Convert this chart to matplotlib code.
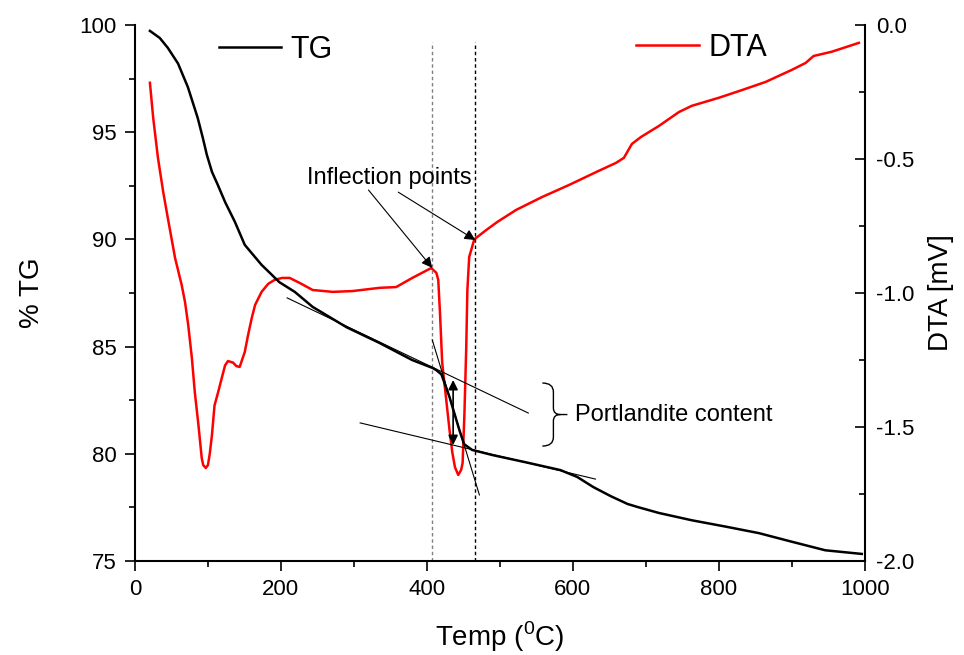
import matplotlib
matplotlib.use("Agg")
import matplotlib.pyplot as plt
from matplotlib.path import Path
from matplotlib.patches import PathPatch

plt.rcParams['font.family'] = ['Liberation Sans', 'DejaVu Sans']
plt.rcParams['mathtext.fontset'] = 'custom'
plt.rcParams['mathtext.rm'] = 'Liberation Sans'

# TG curve (temperature in C, mass %)
tg_temp = [20.5, 34, 45, 59, 72.5, 86, 93, 98.5, 105.6, 113.5, 123.5, 137, 150.5, 173.5, 198,
           219, 243.5, 290, 335, 380, 408, 413, 420, 431, 444.6, 451, 462, 490, 536, 583,
           606, 628, 651.6, 675, 688.6, 718, 763, 810, 855, 900, 946, 996]
tg_val = [99.72, 99.39, 98.93, 98.2, 97.1, 95.66, 94.73, 93.94, 93.14, 92.54, 91.74, 90.81,
          89.74, 88.81, 88.0, 87.55, 86.85, 85.9, 85.17, 84.37, 84.0, 83.9, 83.7, 82.65, 81.1,
          80.45, 80.18, 79.94, 79.6, 79.24, 78.92, 78.45, 78.03, 77.66, 77.52, 77.24, 76.9,
          76.6, 76.3, 75.9, 75.5, 75.33]

# DTA curve (temperature in C, mV)
dta_temp = [20.5, 25, 31.5, 38.7, 45, 55, 64, 68.6, 73, 78, 82, 87, 91.5, 93.5, 97, 100,
            102.5, 105.5, 109, 114, 119, 123.5, 127.5, 134.5, 139, 143.5, 150.5, 155, 160,
            164.6, 173.5, 182.6, 191.5, 201.6, 212, 226, 243.5, 271, 298, 335, 358, 380, 406,
            413, 415.6, 418, 421, 431, 435, 438.5, 443, 447, 449, 451.5, 454, 455.5, 458, 465,
            481.5, 496.6, 522.5, 558, 595, 632, 659, 670, 681, 693.5, 718, 745.5, 763, 800,
            832, 864, 900, 919, 930, 955, 992]
dta_val = [-0.216, -0.347, -0.496, -0.623, -0.72, -0.87, -0.97, -1.034, -1.12, -1.243, -1.37,
           -1.493, -1.616, -1.642, -1.653, -1.642, -1.60, -1.53, -1.42, -1.37, -1.317, -1.27,
           -1.254, -1.26, -1.273, -1.276, -1.22, -1.157, -1.094, -1.045, -0.996, -0.966,
           -0.951, -0.944, -0.944, -0.963, -0.989, -0.996, -0.993, -0.981, -0.978, -0.944,
           -0.907, -0.925, -0.951, -1.075, -1.26, -1.51, -1.597, -1.65, -1.679, -1.66, -1.634,
           -1.448, -1.20, -0.99, -0.866, -0.80, -0.765, -0.735, -0.69, -0.642, -0.597, -0.549,
           -0.515, -0.496, -0.444, -0.418, -0.377, -0.325, -0.302, -0.272, -0.243, -0.213,
           -0.168, -0.142, -0.116, -0.10, -0.067]

# inflection temperatures and construction lines (in TG coordinates)
inflect_temps = [407.4, 466.4]
tangent_1 = ([208.5, 539], [87.27, 81.90])
tangent_2 = ([407.4, 472], [85.31, 78.08])
tangent_3 = ([308.6, 631], [81.44, 78.82])

fig = plt.figure(figsize=(9.64, 6.55), dpi=100)
ax = fig.add_axes([0.140, 0.1435, 0.757, 0.8185])
ax2 = ax.twinx()

ax.plot(tg_temp, tg_val, color='black', lw=1.8, label='TG', zorder=3)
ax2.plot(dta_temp, dta_val, color='red', lw=1.8, label='DTA', zorder=2)
ax.set_zorder(ax2.get_zorder() + 1)
ax.patch.set_visible(False)

ax.set_xlim(0, 1000)
ax.set_ylim(75, 100)
ax2.set_ylim(-2.0, 0.0)

ax.set_xticks(range(0, 1001, 200))
ax.set_xticks(range(100, 1000, 200), minor=True)
ax.set_yticks(range(75, 101, 5))
ax.set_yticks([77.5, 82.5, 87.5, 92.5, 97.5], minor=True)
ax2.set_yticks([-2.0, -1.5, -1.0, -0.5, 0.0])
ax2.set_yticks([-1.75, -1.25, -0.75, -0.25], minor=True)
ax2.set_yticklabels(['-2.0', '-1.5', '-1.0', '-0.5', '0.0'])

for a in (ax, ax2):
    a.spines['top'].set_visible(False)
    for s in a.spines.values():
        s.set_linewidth(1.5)
ax.spines['right'].set_visible(False)
ax2.spines['left'].set_visible(False)
ax2.spines['bottom'].set_visible(False)

ax.tick_params(axis='both', which='major', direction='out', length=7, width=1.2, labelsize=16, pad=6)
ax.tick_params(axis='both', which='minor', direction='out', length=4, width=1.2)
ax.tick_params(axis='y', right=False, which='both')
ax2.tick_params(axis='y', which='major', direction='in', length=7, width=1.2, labelsize=16, pad=8)
ax2.tick_params(axis='y', which='minor', direction='in', length=4, width=1.2)

ax.set_xlabel('Temp ($^0$C)', fontsize=20, labelpad=14)
ax.set_ylabel('% TG', fontsize=20, labelpad=25)
ax2.set_ylabel('DTA [mV]', fontsize=20, labelpad=10)

# legends
ax.legend(loc='center left', bbox_to_anchor=(0.1146, 0.953), frameon=False,
          fontsize=22, handlelength=2.05, handletextpad=0.3, borderpad=0, borderaxespad=0)
ax2.legend(loc='center left', bbox_to_anchor=(0.687, 0.957), frameon=False,
           fontsize=22, handlelength=2.05, handletextpad=0.3, borderpad=0, borderaxespad=0)

# vertical lines at inflection points
ax.plot([inflect_temps[0]] * 2, [75, 99.2], color='gray', lw=1, ls=(0, (2.5, 2)), zorder=1)
ax.plot([inflect_temps[1]] * 2, [75, 99.2], color='black', lw=1, ls=(0, (2.5, 2)), zorder=1)

# tangents
for tx, ty in (tangent_1, tangent_2, tangent_3):
    ax.plot(tx, ty, color='black', lw=0.8, zorder=4)

# inflection annotation
ax.text(348.6, 92.86, 'Inflection points', fontsize=17, ha='center', va='center')
arrow = dict(arrowstyle='-|>', color='black', lw=0.8, mutation_scale=16, shrinkA=0, shrinkB=0)
ax.annotate('', xy=(407.4, 88.67), xytext=(320, 92.3), arrowprops=arrow)
ax.annotate('', xy=(466.4, 89.97), xytext=(360.8, 92.2), arrowprops=arrow)

# portlandite step arrow
ax.annotate('', xy=(436, 83.44), xytext=(436, 80.41),
            arrowprops=dict(arrowstyle='<|-|>', color='black', lw=1.2, mutation_scale=14,
                            shrinkA=0, shrinkB=0), zorder=5)

# curly brace
verts = [(558.3, 83.30), (573.4, 83.30), (573.4, 82.88), (573.4, 82.14),
         (573.4, 81.83), (583, 81.83), (592.6, 81.83), (583, 81.83),
         (573.4, 81.83), (573.4, 81.53), (573.4, 80.78), (573.4, 80.36), (558.3, 80.36)]
codes = [Path.MOVETO, Path.CURVE3, Path.CURVE3, Path.LINETO,
         Path.CURVE3, Path.CURVE3, Path.LINETO, Path.MOVETO,
         Path.CURVE3, Path.CURVE3, Path.LINETO, Path.CURVE3, Path.CURVE3]
ax.add_patch(PathPatch(Path(verts, codes), fill=False, lw=1.0, color='black'))
ax.text(603.6, 81.83, 'Portlandite content', fontsize=17, ha='left', va='center')

fig.savefig('out.png', dpi=100)
